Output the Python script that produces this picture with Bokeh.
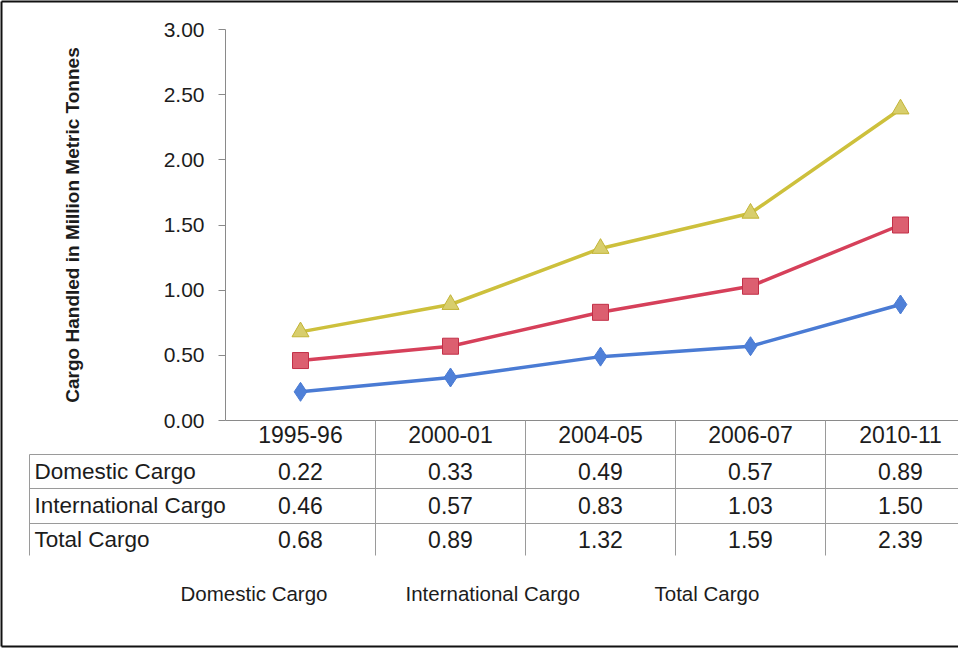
import math
from bokeh.plotting import figure
from bokeh.models import Range1d, FixedTicker, NumeralTickFormatter
from bokeh.core.properties import value
from bokeh.embed import file_html
from bokeh.resources import INLINE

# ---------------- data ----------------
categories = ["1995-96", "2000-01", "2004-05", "2006-07", "2010-11"]
domestic = [0.22, 0.33, 0.49, 0.57, 0.89]
international = [0.46, 0.57, 0.83, 1.03, 1.50]
total = [0.68, 0.89, 1.32, 1.59, 2.39]
row_labels = ["Domestic Cargo", "International  Cargo", "Total Cargo"]
legend_labels = ["Domestic Cargo", "International Cargo", "Total Cargo"]
y_ticks = [0.0, 0.5, 1.0, 1.5, 2.0, 2.5, 3.0]
y_title = "Cargo Handled in Million Metric Tonnes"

# ---------------- layout (pixels) ----------------
W, H = 958, 648
LEFT, TOP, BOTTOM = 225, 29, 420
COL = 150
FONT = "Liberation Sans"
INK = "#1c1c1c"
GRID = "#9a9a9a"

xs = [i + 0.5 for i in range(len(categories))]

p = figure(width=W, height=H, output_backend="svg", toolbar_location=None,
           x_range=Range1d(0, (W - LEFT) / COL), y_range=Range1d(0, 3),
           min_border_left=LEFT, min_border_right=0,
           min_border_top=TOP, min_border_bottom=H - BOTTOM)
p.extra_x_ranges = {"px": Range1d(LEFT, W)}
p.extra_y_ranges = {"px": Range1d(BOTTOM, TOP)}
p.outline_line_color = None
p.xgrid.visible = False
p.ygrid.visible = False
p.background_fill_color = "white"
p.border_fill_color = "white"

# y axis
ya = p.yaxis[0]
ya.ticker = FixedTicker(ticks=y_ticks)
ya.formatter = NumeralTickFormatter(format="0.00")
ya.major_label_text_font = FONT
ya.major_label_text_font_size = "21px"
ya.major_label_text_color = INK
ya.axis_line_color = "#8a8a8a"
ya.major_tick_line_color = "#8a8a8a"
ya.major_tick_in = 0
ya.major_tick_out = 7
ya.minor_tick_line_color = None
ya.major_label_standoff = 14
ya.axis_label = y_title
ya.axis_label_text_font = FONT
ya.axis_label_text_font_style = "bold"
ya.axis_label_text_font_size = "19px"
ya.axis_label_text_color = INK
ya.axis_label_standoff = 78

# x axis (category header row of the data table)
xa = p.xaxis[0]
xa.ticker = FixedTicker(ticks=xs)
xa.major_label_overrides = {x: c for x, c in zip(xs, categories)}
xa.major_label_text_font = FONT
xa.major_label_text_font_size = "23px"
xa.major_label_text_color = INK
xa.axis_line_color = "#8a8a8a"
xa.major_tick_line_color = None
xa.major_tick_out = 0
xa.major_tick_in = 0
xa.minor_tick_line_color = None
xa.major_label_standoff = 5

# ---------------- series ----------------
c_dom, c_int, c_tot = "#4a7bd4", "#d6405a", "#cdc03c"
p.line(xs, total, line_width=3.5, color=c_tot)
p.scatter(xs, total, marker="triangle", size=17, fill_color="#d8ce6c", line_color="#c2b436", line_width=1)
p.line(xs, international, line_width=3.5, color=c_int)
p.scatter(xs, international, marker="square", size=16, fill_color="#dc5f70", line_color="#c23048", line_width=1)
p.line(xs, domestic, line_width=3.5, color=c_dom)
p.scatter(xs, domestic, marker="diamond", size=19, fill_color="#4f80d8", line_color="#4a7bd4", line_width=1)

# ---------------- data table ----------------
row_y = [471, 505, 539]
rule_y = [454, 488, 523]
table_bottom = 555
col_edges = [LEFT + COL * (i + 1) for i in range(len(categories))]

p.segment(x0=[29] * len(rule_y), y0=rule_y, x1=[W] * len(rule_y), y1=rule_y,
          x_range_name="px", y_range_name="px", line_color=GRID, line_width=1, level="overlay")
p.segment(x0=[29], y0=[rule_y[0]], x1=[29], y1=[table_bottom],
          x_range_name="px", y_range_name="px", line_color=GRID, line_width=1, level="overlay")
p.segment(x0=col_edges, y0=[BOTTOM] * len(col_edges), x1=col_edges, y1=[table_bottom] * len(col_edges),
          x_range_name="px", y_range_name="px", line_color=GRID, line_width=1, level="overlay")

p.text(x=[34] * 3, y=row_y, text=row_labels, x_range_name="px", y_range_name="px",
       text_font=value(FONT), text_font_size="22.5px", text_color=INK,
       text_align="left", text_baseline="middle", level="overlay")

for series, yy in zip([domestic, international, total], row_y):
    p.text(x=xs, y=[yy] * len(xs), text=["%.2f" % v for v in series], y_range_name="px",
           text_font=value(FONT), text_font_size="23px", text_color=INK,
           text_align="center", text_baseline="middle", level="overlay")

# ---------------- legend (text only) ----------------
p.text(x=[180, 405, 654], y=[593] * 3, text=legend_labels, x_range_name="px", y_range_name="px",
       text_font=value(FONT), text_font_size="20.5px", text_color=INK,
       text_align="left", text_baseline="middle", level="overlay")

# ---------------- outer border ----------------
p.segment(x0=[1, 1, 1], y0=[1, 1, H - 2], x1=[1, W, W], y1=[H - 2, 1, H - 2],
          x_range_name="px", y_range_name="px", line_color="#111111", line_width=2, level="overlay")

open("out.html", "w").write(file_html(p, INLINE))
